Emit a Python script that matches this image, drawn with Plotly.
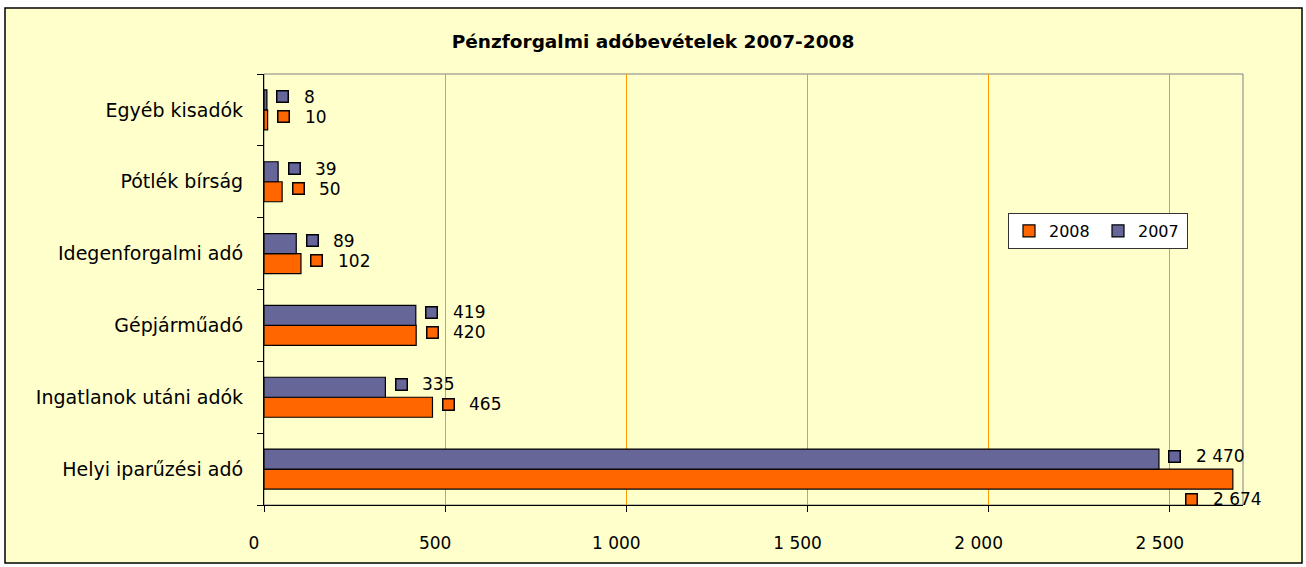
import plotly.graph_objects as go

categories = ["Helyi iparűzési adó", "Ingatlanok utáni adók", "Gépjárműadó",
              "Idegenforgalmi adó", "Pótlék bírság", "Egyéb kisadók"]
values_2008 = [2674, 465, 420, 102, 50, 10]
values_2007 = [2470, 335, 419, 89, 39, 8]
x_ticks = [0, 500, 1000, 1500, 2000, 2500]

FONT = "DejaVu Sans"
ORANGE = "#FF6600"
PURPLE = "#666699"
BG = "#FFFFCC"
X_MAX = 2702

W, H = 1306, 567
L, R, T, B = 264, 1243, 74, 505

def fmt(v):
    return f"{v:,}".replace(",", " ")

fig = go.Figure()
fig.add_trace(go.Bar(y=categories, x=values_2008, orientation="h", name="2008",
                     marker=dict(color=ORANGE, line=dict(color="black", width=1.2))))
fig.add_trace(go.Bar(y=categories, x=values_2007, orientation="h", name="2007",
                     marker=dict(color=PURPLE, line=dict(color="black", width=1.2))))

def px2paper_x(p):
    return (p - L) / (R - L)

def px2paper_y(p):
    return (B - p) / (B - T)

shapes = [
    dict(type="rect", xref="paper", yref="paper",
         x0=px2paper_x(5), x1=px2paper_x(1302), y0=px2paper_y(563), y1=px2paper_y(8),
         fillcolor=BG, line=dict(color="black", width=1.5), layer="below"),
    dict(type="rect", xref="paper", yref="paper", x0=0, x1=1, y0=0, y1=1,
         fillcolor="rgba(0,0,0,0)", line=dict(color="#808080", width=1), layer="below"),
]

annotations = []
for series, vals, color, off in [("2008", values_2008, ORANGE, -10), ("2007", values_2007, PURPLE, 10)]:
    for cat, v in zip(categories, vals):
        fits = v + 230 <= X_MAX
        if fits:
            mx, my = 16, off + 3
        else:
            mx, my = -41, off - 20
        annotations.append(dict(x=v, y=cat, xref="x", yref="y", text=" ", showarrow=False,
                                xshift=mx, yshift=my, width=10, height=10, borderpad=0,
                                bgcolor=color, bordercolor="black", borderwidth=1.5,
                                font=dict(size=6)))
        annotations.append(dict(x=v, y=cat, xref="x", yref="y", text=fmt(v), showarrow=False,
                                xanchor="left", xshift=mx + 19, yshift=my,
                                font=dict(family=FONT, size=17, color="black")))

fig.update_layout(
    width=W, height=H,
    margin=dict(l=L, r=W - R, t=T, b=H - B, pad=0),
    paper_bgcolor="white", plot_bgcolor="rgba(0,0,0,0)",
    barmode="group", bargap=0.443, bargroupgap=0,
    separators=", ",
    font=dict(family=FONT, size=17, color="black"),
    title=dict(text="<b>Pénzforgalmi adóbevételek 2007-2008</b>", x=0.5, xanchor="center",
               y=1 - 42 / H, yanchor="middle", font=dict(family=FONT, size=18.5, color="black")),
    legend=dict(orientation="h", x=px2paper_x(1008), y=px2paper_y(213), xanchor="left", yanchor="top",
                bgcolor="white", bordercolor="#333333", borderwidth=1,
                font=dict(family=FONT, size=16), traceorder="normal",
                itemwidth=30, tracegroupgap=0, entrywidth=44, entrywidthmode="pixels"),
    shapes=shapes, annotations=annotations,
    xaxis=dict(range=[0, X_MAX], tickvals=x_ticks, tickformat=",d", showgrid=True,
               gridcolor="#FF9900", gridwidth=1, zeroline=False, showline=True, automargin=False,
               linecolor="black", linewidth=1.2, ticks="outside", ticklen=6, tickcolor="black",
               ticklabelstandoff=16, ticklabelshift=-10, tickfont=dict(family=FONT, size=17)),
    yaxis=dict(type="category", categoryorder="array", categoryarray=categories,
               range=[-0.5, len(categories) - 0.5], automargin=False,
               showline=True, linecolor="black", linewidth=1.2, ticks="outside", ticklen=6,
               tickcolor="black", tickson="boundaries", showgrid=False,
               ticklabelstandoff=16, tickfont=dict(family=FONT, size=19)),
    showlegend=True,
)

fig.write_html("out.html", config={"displayModeBar": False},
               post_script="document.body.style.margin='0';document.body.style.padding='0';")
